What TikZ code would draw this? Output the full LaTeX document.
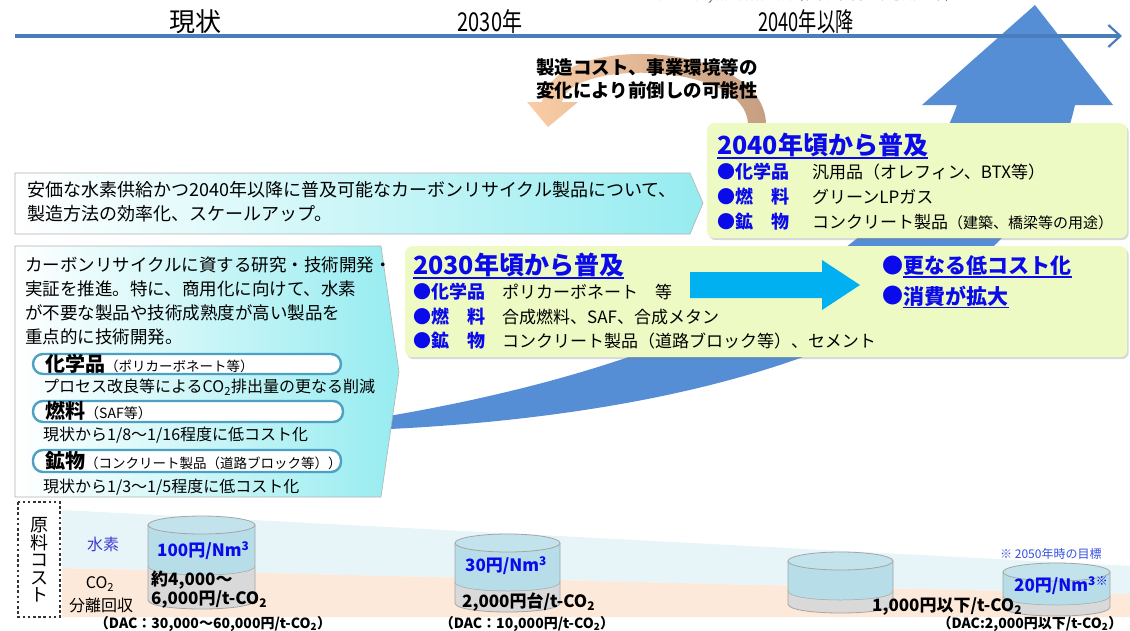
\documentclass[tikz,border=0pt]{standalone}
\usepackage{fontspec}
\setmainfont{Noto Sans CJK JP}
\usetikzlibrary{arrows.meta,shadows}
\definecolor{tlblue}{RGB}{74,126,187}
\definecolor{bigblue}{RGB}{85,142,213}
\definecolor{boxgreen}{RGB}{238,250,195}
\definecolor{cyanR}{RGB}{150,236,240}
\definecolor{txtblue}{RGB}{10,10,235}
\definecolor{pillborder}{RGB}{75,160,195}
\definecolor{arrcyan}{RGB}{0,176,240}
\definecolor{bandblue}{RGB}{231,244,248}
\definecolor{bandorange}{RGB}{253,233,217}
\definecolor{cylblue}{RGB}{183,222,232}
\definecolor{cylgray}{RGB}{217,217,217}
\definecolor{cyledge}{RGB}{165,165,165}
\definecolor{peachL}{RGB}{250,205,165}
\definecolor{peachR}{RGB}{198,158,130}
\definecolor{suisoblue}{RGB}{60,60,210}
\definecolor{noteblue}{RGB}{50,80,225}
\newcommand{\fs}[1]{\fontsize{#1}{#1}\selectfont}
\newcommand{\cotwo}{CO\textsubscript{2}}
% x1, x2, ytop, ybound, ybot (centres of ellipses), ry = 9
\newcommand{\drawcyl}[5]{%
  \fill[cylgray] (#1,#4) -- (#1,#5) .. controls (#1,{#5+12}) and (#2,{#5+12}) .. (#2,#5) -- (#2,#4) -- cycle;
  \fill[cylblue] (#1,#3) -- (#1,#4) .. controls (#1,{#4+12}) and (#2,{#4+12}) .. (#2,#4) -- (#2,#3) -- cycle;
  \draw[cyledge, line width=0.5pt] (#1,#4) .. controls (#1,{#4+12}) and (#2,{#4+12}) .. (#2,#4);
  \draw[cyledge, line width=0.8pt] (#1,#3) -- (#1,#5) .. controls (#1,{#5+12}) and (#2,{#5+12}) .. (#2,#5) -- (#2,#3);
  \filldraw[fill=cylblue!85!white, draw=cyledge, line width=0.8pt] ({(#1+#2)/2},#3) ellipse [x radius={(#2-#1)/2}, y radius=9];
}
\begin{document}
\begin{tikzpicture}[x=1pt,y=-1pt,
  every node/.style={inner sep=0pt},
  lab/.style={anchor=west, text=black},
  blab/.style={anchor=west, text=txtblue, font=\bfseries\fs{18}},
  rowtxt/.style={anchor=west, text=black, font=\fs{17}},
  greenbox/.style={fill=boxgreen, rounded corners=7pt, anchor=north west,
    drop shadow={shadow xshift=1.5pt, shadow yshift=-2pt, opacity=0.3}},
  pent/.style={left color=white, right color=cyanR, draw=black!30, line width=0.6pt},
  pill/.style={draw=pillborder, line width=2.4pt, fill=white, rounded corners=10pt},
  btxt/.style={anchor=west, text=black, font=\bfseries\fs{17}},
  dac/.style={anchor=center, text=black, font=\bfseries\fs{14}},
  timelbl/.style={font=\fs{26}, transform shape},
]
\useasboundingbox (0,0) rectangle (1130,630);
\fill[white] (0,0) rectangle (1130,630);

% ---------- bottom bands ----------
\fill[bandblue] (62,510) -- (1130,566) -- (1130,594) -- (62,568) -- cycle;
\fill[bandorange] (62,568) -- (1130,594) -- (1130,617) -- (62,617) -- cycle;

% ---------- big blue arrow ----------
\fill[bigblue] (280,432) .. controls (650,430) and (1020,350) .. (1075,105)
  -- (1113,105) -- (1035,5) -- (922,105) -- (957,105)
  .. controls (905,250) and (700,380) .. (280,432) -- cycle;

% ---------- time line ----------
\coordinate (tlA) at (15,36);
\coordinate (tlB) at (1122,36);
\draw[tlblue, line width=3.5pt, -{Straight Barb[length=12pt, width=22pt, line width=2.2pt]}] (tlA) -- (tlB);
\node[timelbl] (now) at (195,22) {現状};
\node[timelbl, xscale=0.77] (y30) at (490,22) {2030年};
\node[timelbl, xscale=0.7] (y40) at (806,22) {2040年以降};
\node[font=\fs{11}, text=black!70, anchor=west] (lca) at (650,-3) {LCA：Life Cycle Assessment（ライフサイクルアセスメント）};

% ---------- orange curved arrow ----------
\shade[left color=peachL, right color=peachR]
  (766,125) .. controls (766,40) and (552,30) .. (542,102)
  -- (527,102) -- (548,127) -- (578,102) -- (562,102)
  .. controls (570,58) and (748,62) .. (748,125) -- cycle;
\node[font=\bfseries\fs{18.5}] (ot1) at (647,67) {製造コスト、事業環境等の};
\node[font=\bfseries\fs{18.5}] (ot2) at (647,90) {変化により前倒しの可能性};

% ---------- 2040 box ----------
\node[greenbox, minimum width=420pt, minimum height=115pt] (box40) at (707,123) {};
\node[anchor=west, text=txtblue, font=\bfseries\fs{25}] (t40) at (717,145) {2040年頃から普及};
\draw[txtblue, line width=1.6pt] ([yshift=-1pt]t40.south west) -- ([yshift=-1pt]t40.south east);
\node[blab] (l40a) at (717,172) {●化学品};
\node[blab] (l40b) at (717,197) {●燃　料};
\node[blab] (l40c) at (717,222) {●鉱　物};
\node[rowtxt] (r40a) at (812,172) {汎用品（オレフィン、BTX等）};
\node[rowtxt] (r40b) at (812,197) {グリーンLPガス};
\node[rowtxt] (r40c) at (812,222) {コンクリート製品{\fs{15}（建築、橋梁等の用途）}};

% ---------- pentagon 1 ----------
\shadedraw[pent] (15,173) -- (690,173) -- (703,203) -- (690,234) -- (15,234) -- cycle;
\node[anchor=west, align=left, font=\fontsize{18}{24}\selectfont] (p1txt) at (27,202)
  {安価な水素供給かつ2040年以降に普及可能なカーボンリサイクル製品について、\\製造方法の効率化、スケールアップ。};

% ---------- 2030 box ----------
\node[greenbox, minimum width=722pt, minimum height=111pt] (box30) at (405,246) {};
\node[anchor=west, text=txtblue, font=\bfseries\fs{25}] (t30) at (413,265) {2030年頃から普及};
\draw[txtblue, line width=1.6pt] ([yshift=-1pt]t30.south west) -- ([yshift=-1pt]t30.south east);
\node[blab] (l30a) at (413,292) {●化学品};
\node[blab] (l30b) at (413,317) {●燃　料};
\node[blab] (l30c) at (413,341) {●鉱　物};
\node[rowtxt] (r30a) at (502,292) {ポリカーボネート　等};
\node[rowtxt] (r30b) at (502,317) {合成燃料、SAF、合成メタン};
\node[rowtxt] (r30c) at (502,341) {コンクリート製品（道路ブロック等）、セメント};
\fill[arrcyan] (690,272) -- (822,272) -- (822,260) -- (860,285) -- (822,310) -- (822,298) -- (690,298) -- cycle;
\node[anchor=west, text=txtblue, font=\bfseries\fs{21}] (b1) at (882,266) {●};
\node[anchor=west, text=txtblue, font=\bfseries\fs{21}] (m1) at (b1.east) {更なる低コスト化};
\draw[txtblue, line width=1.4pt] ([yshift=-1pt]m1.south west) -- ([yshift=-1pt]m1.south east);
\node[anchor=west, text=txtblue, font=\bfseries\fs{21}] (b2) at (882,296) {●};
\node[anchor=west, text=txtblue, font=\bfseries\fs{21}] (m2) at (b2.east) {消費が拡大};
\draw[txtblue, line width=1.4pt] ([yshift=-1pt]m2.south west) -- ([yshift=-1pt]m2.south east);

% ---------- left big pentagon ----------
\shadedraw[pent] (15,246) -- (381,246) -- (399,372) -- (381,497) -- (15,497) -- cycle;
\node[anchor=west, align=left, font=\fontsize{17.5}{24.2}\selectfont] (p2txt) at (25,301)
  {カーボンリサイクルに資する研究・技術開発・\\実証を推進。特に、商用化に向けて、水素\\が不要な製品や技術成熟度が高い製品を\\重点的に技術開発。};
\draw[pill] (33,354) rectangle (341,374);
\node[lab] (pl1) at (45,364) {{\bfseries\fs{20}化学品}{\fs{13.5}（ポリカーボネート等）}};
\node[lab, font=\fs{16}] (d1) at (43,387) {プロセス改良等による\cotwo 排出量の更なる削減};
\draw[pill] (33,401) rectangle (343,422);
\node[lab] (pl2) at (45,411) {{\bfseries\fs{20}燃料}{\fs{14}（SAF等）}};
\node[lab, font=\fs{16}] (d2) at (43,435) {現状から1/8～1/16程度に低コスト化};
\draw[pill] (33,450) rectangle (341,472);
\node[lab] (pl3) at (45,461) {{\bfseries\fs{20}鉱物}{\fs{13.5}（コンクリート製品（道路ブロック等））}};
\node[lab, font=\fs{16}] (d3) at (43,487) {現状から1/3～1/5程度に低コスト化};

% ---------- raw material cost ----------
\draw[black!80, line width=2.6pt, dash pattern=on 2.6pt off 2.6pt] (18,502) rectangle (60,617);
\node[align=center, font=\fontsize{18}{17.5}\selectfont] (genryo) at (39,560) {原\\料\\コ\\ス\\ト};
\node[text=suisoblue, font=\fs{16}] (suiso) at (103,544) {水素};
\node[font=\fs{16}] (co2) at (100,584) {\cotwo};
\node[font=\fs{16}] (bunri) at (101,605) {分離回収};

% ---------- cylinders ----------
\drawcyl{148}{255}{525}{566}{600}
\drawcyl{455}{560}{543}{582}{603}
\drawcyl{788}{893}{561}{591}{604}
\drawcyl{1003}{1110}{572}{596}{607}

\node[anchor=west, text=txtblue, font=\bfseries\fs{17}] (c1h) at (157,551) {100円/Nm\textsuperscript{3}};
\node[btxt] (c1a) at (151,580) {約4,000～};
\node[btxt] (c1b) at (151,600) {6,000円/t-\cotwo};
\node[dac] (c1d) at (213,624) {（DAC：30,000～60,000円/t-\cotwo）};

\node[anchor=west, text=txtblue, font=\bfseries\fs{17}] (c2h) at (465,566) {30円/Nm\textsuperscript{3}};
\node[btxt] (c2a) at (462,602) {2,000円台/t-\cotwo};
\node[dac] (c2d) at (527,624) {（DAC：10,000円/t-\cotwo）};

\node[btxt] (c3a) at (872,607) {1,000円以下/t-\cotwo};
\node[dac] (c3d) at (1030,624) {（DAC:2,000円以下/t-\cotwo）};

\node[anchor=west, text=txtblue, font=\bfseries\fs{17}] (c4h) at (1014,586) {20円/Nm\textsuperscript{3}\textsuperscript{※}};
\node[anchor=west, text=noteblue, font=\fs{12}] (note) at (1000,554) {※ 2050年時の目標};
\end{tikzpicture}
\end{document}
